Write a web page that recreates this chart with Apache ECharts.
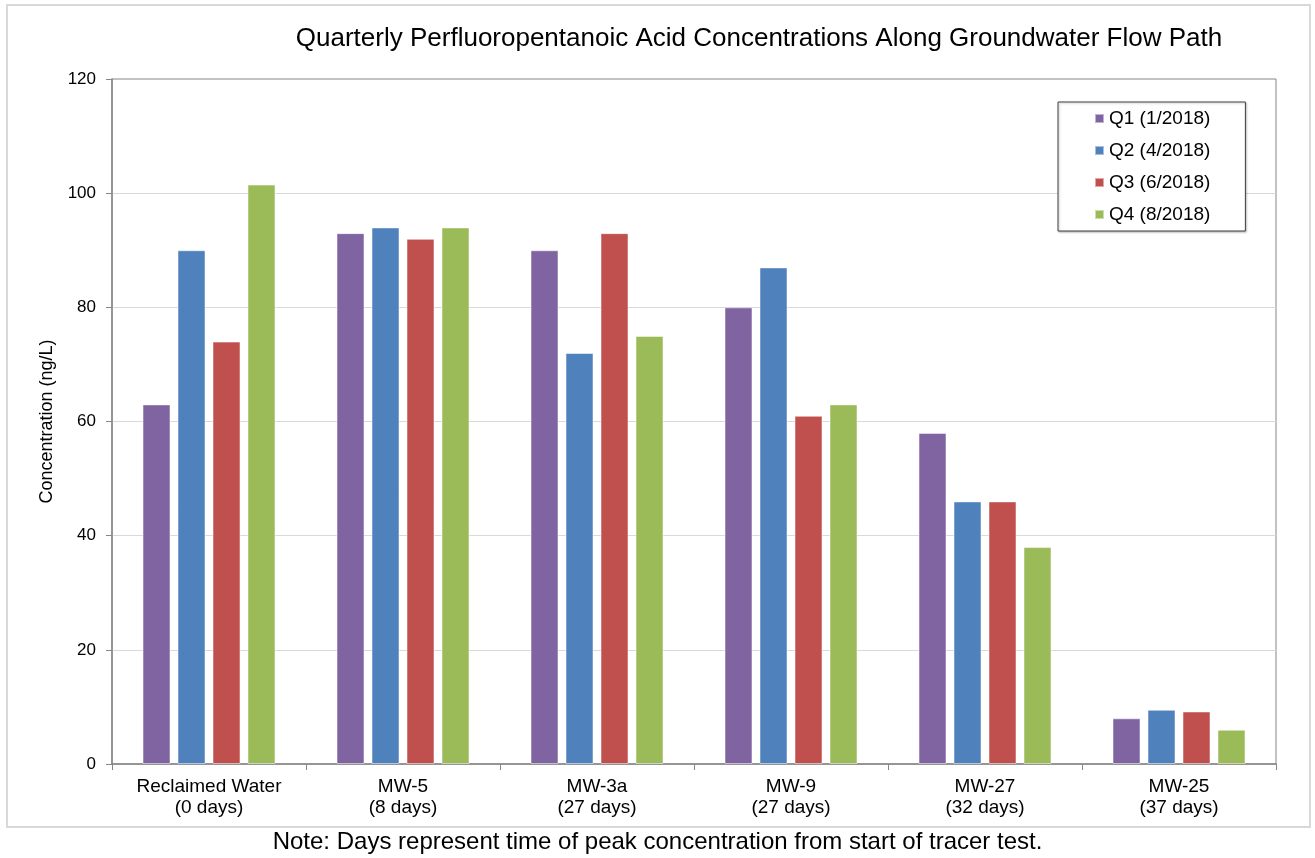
<!DOCTYPE html>
<html>
<head>
<meta charset="utf-8">
<script src="https://cdn.jsdelivr.net/npm/echarts@6/dist/echarts.min.js"></script>
<style>
  html, body { margin: 0; padding: 0; background: #ffffff; }
  #chart { width: 1315px; height: 858px; }
</style>
</head>
<body>
<div id="chart"></div>
<script>
// Sampling locations along the flow path, with time of peak concentration
const categories = [
  'Reclaimed Water\n(0 days)',
  'MW-5\n(8 days)',
  'MW-3a\n(27 days)',
  'MW-9\n(27 days)',
  'MW-27\n(32 days)',
  'MW-25\n(37 days)'
];

// Perfluoropentanoic acid concentrations (ng/L) by quarterly sampling event
const q1 = [63, 93, 90, 80, 58, 8];
const q2 = [90, 94, 72, 87, 46, 9.5];
const q3 = [74, 92, 93, 61, 46, 9.2];
const q4 = [101.5, 94, 75, 63, 38, 6];

const seriesNames = ['Q1 (1/2018)', 'Q2 (4/2018)', 'Q3 (6/2018)', 'Q4 (8/2018)'];
const seriesColors = ['#8064A2', '#4F81BD', '#C0504D', '#9BBB59'];
const seriesData = [q1, q2, q3, q4];

const yTicks = { min: 0, max: 120, interval: 20 };

const font = 'Arial, "Liberation Sans", sans-serif';

const chart = echarts.init(document.getElementById('chart'), null, { renderer: 'canvas' });

chart.setOption({
  backgroundColor: '#ffffff',
  animation: false,
  title: {
    text: 'Quarterly Perfluoropentanoic Acid Concentrations Along Groundwater Flow Path',
    left: 754,
    textAlign: 'center',
    top: 21,
    textStyle: { fontFamily: font, fontSize: 26, fontWeight: 'normal', color: '#000000' }
  },
  legend: {
    orient: 'vertical',
    left: 1058,
    top: 102,
    padding: [7, 35, 7, 36],
    itemWidth: 9,
    itemHeight: 9,
    itemGap: 13,
    icon: 'rect',
    borderColor: '#404040',
    borderWidth: 1,
    shadowColor: 'rgba(0,0,0,0.25)',
    shadowBlur: 2,
    shadowOffsetX: 1,
    shadowOffsetY: 1,
    backgroundColor: '#ffffff',
    textStyle: { fontFamily: font, fontSize: 19, color: '#000000' },
    data: seriesNames
  },
  grid: {
    left: 112,
    right: 39,
    top: 79,
    bottom: 94,
    show: true,
    borderColor: '#868686',
    borderWidth: 1,
    containLabel: false
  },
  xAxis: {
    type: 'category',
    data: categories,
    axisLine: { show: true, lineStyle: { color: '#868686', width: 1.5 } },
    axisTick: { show: true, length: 6, lineStyle: { color: '#868686' } },
    axisLabel: {
      fontFamily: font,
      fontSize: 19,
      color: '#000000',
      lineHeight: 21,
      margin: 12
    }
  },
  yAxis: {
    type: 'value',
    min: yTicks.min,
    max: yTicks.max,
    interval: yTicks.interval,
    name: 'Concentration (ng/L)',
    nameLocation: 'middle',
    nameGap: 56,
    nameRotate: 90,
    nameTextStyle: { fontFamily: font, fontSize: 18, color: '#000000' },
    axisLine: { show: true, lineStyle: { color: '#868686', width: 1.5 } },
    axisTick: { show: true, length: 6, lineStyle: { color: '#868686' } },
    axisLabel: { fontFamily: font, fontSize: 17, color: '#000000', margin: 16 },
    splitLine: {
      show: true,
      showMinLine: false,
      showMaxLine: false,
      lineStyle: { color: '#d9d9d9', width: 1 }
    }
  },
  series: seriesData.map((data, i) => ({
    name: seriesNames[i],
    type: 'bar',
    data: data,
    barWidth: 28,
    barGap: '25%',
    itemStyle: {
      color: seriesColors[i],
      borderColor: 'rgba(255,255,255,0.5)',
      borderWidth: 1
    }
  })),
  graphic: [
    {
      type: 'rect',
      shape: { x: 7, y: 5, width: 1303, height: 822 },
      style: { fill: 'none', stroke: '#d9d9d9', lineWidth: 2 },
      silent: true,
      z: -10
    },
    {
      type: 'text',
      left: 'center',
      top: 830,
      style: {
        text: 'Note: Days represent time of peak concentration from start of tracer test.',
        font: '24px ' + font,
        fill: '#000000'
      }
    }
  ]
});
</script>
</body>
</html>
